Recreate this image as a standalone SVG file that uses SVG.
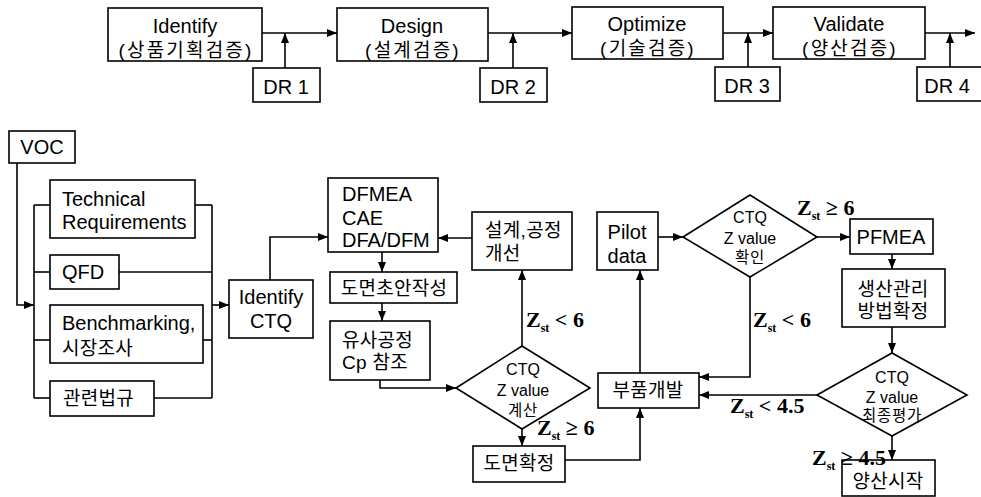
<svg xmlns="http://www.w3.org/2000/svg" width="981" height="497" viewBox="0 0 981 497">
<defs>
<marker id="ah" viewBox="0 0 10 8" refX="10" refY="4" markerWidth="10" markerHeight="8" markerUnits="userSpaceOnUse" orient="auto">
<path d="M0,0 L10,4 L0,8 z" fill="#000"/>
</marker>
</defs>
<style>
rect, polygon { fill: #fff; stroke: #000; stroke-width: 1.6; }
.c path, .c line { fill: none; stroke: #000; stroke-width: 1.6; }
.a { marker-end: url(#ah); }
text { font-family: "Liberation Sans", "Noto Sans CJK KR", sans-serif; font-size: 20px; fill: #000; }
.k { font-size: 19px; letter-spacing: 0.3px; }
.kt { font-size: 19px; letter-spacing: 2.2px; }
.m { text-anchor: middle; }
.d { font-size: 16px; text-anchor: middle; }
.dk { font-size: 15.5px; letter-spacing: 0.8px; text-anchor: middle; }
.z { font-family: "Liberation Serif", serif; font-size: 22px; font-weight: bold; }
.s { font-size: 12px; }
</style>

<g class="c" id="connectors">
<line class="a" x1="262" y1="33" x2="337" y2="33"/>
<line class="a" x1="488" y1="33" x2="572" y2="33"/>
<line class="a" x1="723" y1="33" x2="773" y2="33"/>
<line class="a" x1="925" y1="33" x2="975" y2="33"/>
<line class="a" x1="285" y1="68" x2="285" y2="33"/>
<line class="a" x1="513" y1="68" x2="513" y2="33"/>
<line class="a" x1="748" y1="67" x2="748" y2="33"/>
<line class="a" x1="950" y1="67" x2="950" y2="33"/>

<path class="a" d="M17,163 V305 H34"/>
<line x1="34" y1="205" x2="34" y2="398"/>
<line x1="212" y1="205" x2="212" y2="398"/>
<line x1="34" y1="205" x2="50" y2="205"/>
<line x1="195" y1="205" x2="212" y2="205"/>
<line x1="34" y1="272" x2="50" y2="272"/>
<line x1="119" y1="272" x2="212" y2="272"/>
<line x1="34" y1="340" x2="50" y2="340"/>
<line x1="203" y1="340" x2="212" y2="340"/>
<line x1="34" y1="398" x2="50" y2="398"/>
<line x1="154" y1="398" x2="212" y2="398"/>
<line class="a" x1="212" y1="305" x2="229" y2="305"/>
<path class="a" d="M270,280 V237 H328"/>
<line class="a" x1="472" y1="238" x2="438" y2="238"/>
<line class="a" x1="382" y1="252" x2="382" y2="272"/>
<line class="a" x1="382" y1="303" x2="382" y2="321"/>
<path class="a" d="M380,380 V388 H456"/>
<line class="a" x1="522" y1="346" x2="522" y2="270"/>
<line class="a" x1="522" y1="429" x2="522" y2="446"/>
<path class="a" d="M565,460 H640 V408"/>
<line class="a" x1="640" y1="373" x2="640" y2="270"/>
<line class="a" x1="658" y1="237" x2="683" y2="237"/>
<line class="a" x1="817" y1="237" x2="850" y2="237"/>
<line class="a" x1="892" y1="254" x2="892" y2="269"/>
<line class="a" x1="892" y1="327" x2="892" y2="353"/>
<path class="a" d="M750,277 V377 H699"/>
<line class="a" x1="817" y1="395" x2="699" y2="395"/>
<line class="a" x1="892" y1="436" x2="892" y2="460"/>
</g>

<g id="identify">
<rect x="108" y="8" width="154" height="53"/>
<text class="m" x="185" y="33">Identify</text>
<text class="kt m" x="186" y="57">(상품기획검증)</text>
</g>
<g id="design">
<rect x="337" y="8" width="151" height="53"/>
<text class="m" x="412" y="33">Design</text>
<text class="kt m" x="413" y="57">(설계검증)</text>
</g>
<g id="optimize">
<rect x="572" y="7" width="151" height="52"/>
<text class="m" x="647" y="31">Optimize</text>
<text class="kt m" x="648" y="55">(기술검증)</text>
</g>
<g id="validate">
<rect x="773" y="7" width="152" height="52"/>
<text class="m" x="849" y="31">Validate</text>
<text class="kt m" x="850" y="55">(양산검증)</text>
</g>
<g id="dr1"><rect x="253" y="68" width="67" height="34"/><text class="m" x="286" y="94">DR 1</text></g>
<g id="dr2"><rect x="480" y="68" width="67" height="34"/><text class="m" x="513" y="94">DR 2</text></g>
<g id="dr3"><rect x="715" y="67" width="65" height="34"/><text class="m" x="747" y="93">DR 3</text></g>
<g id="dr4"><rect x="917" y="67" width="72" height="34"/><text class="m" x="947" y="93">DR 4</text></g>

<g id="voc"><rect x="9" y="131" width="66" height="32"/><text class="m" x="42" y="154">VOC</text></g>
<g id="techreq">
<rect x="50" y="180" width="145" height="58"/>
<text x="62" y="206">Technical</text>
<text x="62" y="229">Requirements</text>
</g>
<g id="qfd"><rect x="50" y="255" width="69" height="34"/><text x="62" y="279">QFD</text></g>
<g id="benchmarking">
<rect x="50" y="305" width="153" height="58"/>
<text x="62" y="330">Benchmarking,</text>
<text class="k" x="62" y="355">시장조사</text>
</g>
<g id="laws"><rect x="50" y="381" width="104" height="35"/><text class="k" x="63" y="405">관련법규</text></g>
<g id="identifyctq">
<rect x="229" y="280" width="84" height="58"/>
<text class="m" x="271" y="304">Identify</text>
<text class="m" x="271" y="328">CTQ</text>
</g>
<g id="dfmea">
<rect x="328" y="178" width="110" height="74"/>
<text x="342" y="201">DFMEA</text>
<text x="342" y="225">CAE</text>
<text x="342" y="247">DFA/DFM</text>
</g>
<g id="improve">
<rect x="472" y="212" width="100" height="58"/>
<text class="k" x="485" y="237">설계,공정</text>
<text class="k" x="485" y="260">개선</text>
</g>
<g id="draft"><rect x="330" y="272" width="127" height="31"/><text class="k m" x="394" y="295">도면초안작성</text></g>
<g id="similar">
<rect x="330" y="321" width="100" height="59"/>
<text class="k" x="342" y="347">유사공정</text>
<text class="k" x="342" y="369">Cp 참조</text>
</g>
<g id="calc">
<polygon points="456,388 522,346 590,388 522,429"/>
<text class="d" x="523" y="375">CTQ</text>
<text class="d" x="523" y="396">Z value</text>
<text class="dk" x="523" y="416">계산</text>
</g>
<g id="confirmdraw"><rect x="473" y="446" width="92" height="36"/><text class="k m" x="519" y="470">도면확정</text></g>
<g id="parts"><rect x="598" y="373" width="101" height="35"/><text class="k m" x="648" y="397">부품개발</text></g>
<g id="pilot">
<rect x="597" y="212" width="61" height="58"/>
<text class="m" x="627" y="239">Pilot</text>
<text class="m" x="627" y="263">data</text>
</g>
<g id="check">
<polygon points="683,237 750,195 817,237 750,277"/>
<text class="d" x="750" y="223">CTQ</text>
<text class="d" x="750" y="244">Z value</text>
<text class="dk" x="750" y="263">확인</text>
</g>
<g id="pfmea"><rect x="850" y="219" width="83" height="35"/><text class="m" x="891" y="244">PFMEA</text></g>
<g id="control">
<rect x="842" y="269" width="103" height="58"/>
<text class="k m" x="893" y="296">생산관리</text>
<text class="k m" x="893" y="318">방법확정</text>
</g>
<g id="final">
<polygon points="817,395 892,353 967,395 892,436"/>
<text class="d" x="892" y="383">CTQ</text>
<text class="d" x="892" y="403">Z value</text>
<text class="dk" x="892" y="421">최종평가</text>
</g>
<g id="massprod"><rect x="842" y="460" width="93" height="36"/><text class="k m" x="888" y="488">양산시작</text></g>

<g id="labels">
<text class="z" x="526" y="327">Z<tspan class="s" dy="5">st</tspan><tspan dy="-5"> &lt; 6</tspan></text>
<text class="z" x="537" y="435">Z<tspan class="s" dy="5">st</tspan><tspan dy="-5"> ≥ 6</tspan></text>
<text class="z" x="797" y="215">Z<tspan class="s" dy="5">st</tspan><tspan dy="-5"> ≥ 6</tspan></text>
<text class="z" x="753" y="327">Z<tspan class="s" dy="5">st</tspan><tspan dy="-5"> &lt; 6</tspan></text>
<text class="z" x="730" y="413">Z<tspan class="s" dy="5">st</tspan><tspan dy="-5"> &lt; 4.5</tspan></text>
<text class="z" x="812" y="465">Z<tspan class="s" dy="5">st</tspan><tspan dy="-5"> ≥ 4.5</tspan></text>
</g>
</svg>
